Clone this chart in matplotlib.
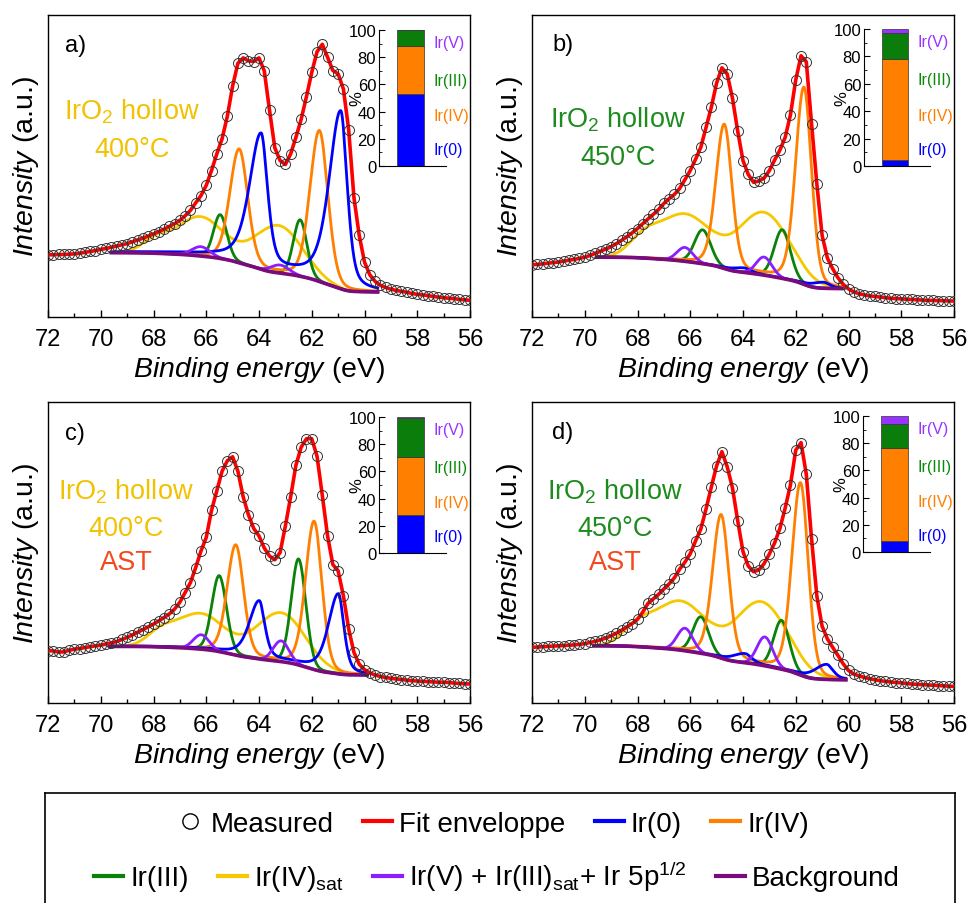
import numpy as np
import matplotlib
matplotlib.use("Agg")
import matplotlib.pyplot as plt
from matplotlib.lines import Line2D

plt.rcParams["font.family"] = ["Liberation Sans", "DejaVu Sans"]
plt.rcParams["mathtext.fontset"] = "custom"
plt.rcParams["mathtext.rm"] = "Liberation Sans"
plt.rcParams["mathtext.it"] = "Liberation Sans:italic"

W, H = 969, 904

# binding energy of the measured points (eV), 72 -> 56
energy = np.round(np.arange(72.0, 55.99, -0.2), 1)

# measured intensity (a.u.), one value per energy point
meas_a = [20.6, 20.6, 20.7, 20.7, 20.8, 20.9, 21.1, 21.4, 21.7, 22.0,
          22.4, 22.7, 23.1, 23.5, 23.9, 24.3, 24.9, 25.5, 26.1, 26.8,
          27.5, 28.3, 29.1, 30.0, 30.9, 32.0, 33.5, 35.3, 37.8, 40.2,
          43.6, 48.5, 54.0, 59.0, 66.5, 76.5, 84.0, 85.8, 84.8, 84.6,
          85.8, 81.5, 68.4, 56.0, 51.8, 50.5, 54.0, 59.5, 65.5, 73.0,
          81.0, 87.8, 90.3, 86.0, 81.6, 80.5, 75.5, 62.0, 39.5, 27.0,
          18.2, 14.0, 11.8, 10.5, 9.8, 9.2, 8.8, 8.5, 8.2, 7.8,
          7.5, 7.3, 7.1, 6.8, 6.6, 6.4, 6.2, 6.1, 5.8, 5.7, 5.5]
meas_b = [17.3, 17.4, 17.6, 17.8, 18.0, 18.2, 18.5, 18.8, 19.1, 19.4,
          19.8, 20.4, 21.1, 21.8, 22.5, 23.3, 24.3, 25.4, 26.6, 27.9,
          29.3, 30.9, 32.5, 34.0, 35.6, 37.6, 39.2, 40.6, 42.6, 45.5,
          48.5, 52.2, 56.2, 62.8, 69.5, 77.5, 82.5, 80.5, 72.5, 61.5,
          51.8, 47.2, 44.6, 45.0, 46.0, 48.5, 52.0, 55.3, 59.5, 67.0,
          78.5, 86.5, 84.5, 64.0, 44.0, 27.0, 19.5, 16.0, 13.0, 10.8,
          9.3, 8.3, 7.7, 7.3, 7.0, 6.8, 6.6, 6.4, 6.2, 6.1,
          6.0, 5.9, 5.8, 5.7, 5.6, 5.5, 5.5, 5.4, 5.4, 5.3, 5.3]
meas_c = [17.4, 17.3, 16.9, 17.0, 17.5, 17.9, 18.1, 18.4, 18.7, 19.0,
          19.2, 19.6, 20.0, 20.4, 21.1, 21.8, 22.6, 23.5, 24.4, 25.3,
          26.2, 27.3, 28.4, 29.6, 31.2, 33.5, 36.7, 40.0, 45.0, 50.5,
          55.0, 64.0, 70.5, 77.0, 80.5, 81.8, 77.0, 68.5, 62.5, 58.0,
          55.5, 51.5, 48.8, 47.6, 50.0, 58.8, 68.5, 79.0, 85.0, 87.8,
          87.8, 82.0, 69.0, 55.5, 46.0, 43.9, 35.6, 24.6, 16.8, 12.9,
          11.1, 10.0, 9.3, 8.8, 8.5, 8.2, 8.0, 7.8, 7.6, 7.4,
          7.3, 7.2, 7.1, 7.0, 6.9, 6.9, 6.8, 6.6, 6.5, 6.4, 6.3]
meas_d = [18.5, 18.6, 18.7, 18.8, 18.9, 19.0, 19.1, 19.2, 19.3, 19.5,
          19.7, 20.1, 20.5, 21.0, 21.6, 22.3, 23.2, 24.2, 25.3, 26.4,
          27.8, 30.2, 33.1, 34.6, 36.1, 37.9, 39.6, 41.6, 44.5, 46.8,
          49.6, 53.8, 57.8, 64.5, 71.8, 78.8, 83.5, 78.5, 71.5, 60.5,
          50.3, 45.5, 43.6, 44.2, 46.3, 49.5, 53.2, 58.0, 64.8, 72.5,
          84.0, 86.5, 76.0, 54.5, 35.5, 25.5, 21.3, 18.5, 15.8, 13.0,
          10.8, 9.6, 9.0, 8.5, 8.1, 7.7, 7.4, 7.2, 7.0, 6.8,
          6.7, 6.5, 6.3, 6.2, 6.1, 6.0, 5.9, 5.8, 5.7, 5.6, 5.5]

# fitted components: (centre eV, height above background, fwhm eV)
ir0_a = [(60.90, 58.8, 0.58), (63.92, 44.3, 0.58)]
ir4_a = [(61.71, 49.9, 0.76), (64.75, 37.5, 0.76)]
ir3_a = [(62.44, 18.7, 0.60), (65.47, 14.5, 0.60)]
sat_a = [(63.26, 15.7, 2.1), (66.23, 13.0, 2.1), (67.93, 4.0, 1.2)]
ir5_a = [(63.20, 2.7, 0.8), (66.20, 3.1, 0.8)]

ir0_b = [(60.95, 2.0, 0.6), (63.95, 1.5, 0.6)]
ir4_b = [(61.69, 65.2, 0.68), (64.71, 47.6, 0.68)]
ir3_b = [(62.51, 16.1, 0.72), (65.53, 11.2, 0.72)]
sat_b = [(63.20, 20.7, 2.3), (66.20, 15.5, 2.3), (67.77, 5.3, 1.3)]
ir5_b = [(63.20, 6.0, 0.7), (66.20, 4.6, 0.7)]

ir0_c = [(60.99, 26.6, 0.5), (63.99, 19.1, 0.5)]
ir4_c = [(61.91, 49.2, 0.70), (64.88, 36.5, 0.70)]
ir3_c = [(62.50, 35.2, 0.65), (65.51, 25.2, 0.65)]
sat_c = [(63.16, 16.2, 2.2), (66.23, 11.8, 2.2), (67.74, 3.8, 1.2)]
ir5_c = [(63.16, 6.9, 0.7), (66.19, 4.8, 0.7)]

ir0_d = [(60.83, 5.0, 0.6), (63.92, 3.0, 0.6)]
ir4_d = [(61.82, 63.8, 0.69), (64.83, 47.5, 0.69)]
ir3_d = [(62.54, 16.2, 0.70), (65.60, 12.1, 0.70)]
sat_d = [(63.29, 21.0, 2.3), (66.38, 16.2, 2.3), (68.02, 5.3, 1.3)]
ir5_d = [(63.17, 9.6, 0.7), (66.20, 7.5, 0.7)]

# Shirley background: (high BE end, level, low BE end, level)
bg_a = (69.6, 21.3, 59.5, 8.3)
bg_b = (69.55, 19.8, 60.25, 9.4)
bg_c = (69.65, 18.8, 59.9, 9.3)
bg_d = (69.65, 19.0, 60.1, 7.7)

# inset composition (%): Ir(0), Ir(IV), Ir(III), Ir(V)
share_a = [52.6, 35.4, 12.0, 0.0]
share_b = [4.1, 73.9, 18.8, 3.2]
share_c = [28.0, 42.5, 28.8, 0.7]
share_d = [8.3, 68.5, 17.6, 5.6]

species = ["Ir(0)", "Ir(IV)", "Ir(III)", "Ir(V)"]
panel_labels = ["a)", "b)", "c)", "d)"]
sample_text = [["IrO$_2$ hollow", "400°C"], ["IrO$_2$ hollow", "450°C"],
               ["IrO$_2$ hollow", "400°C", "AST"], ["IrO$_2$ hollow", "450°C", "AST"]]

YELLOW = "#F2C200"
GREEN = "#1E8B1E"
AST_RED = "#F24A1E"
sample_colors = [[YELLOW, YELLOW], [GREEN, GREEN],
                 [YELLOW, YELLOW, AST_RED], [GREEN, GREEN, AST_RED]]

# colour, lorentz fraction, high-BE asymmetry
comp_style = {
    "sat": ("#F5C800", 0.0, 1.0),
    "ir3": ("#0A820A", 0.1, 1.0),
    "ir4": ("#FF8000", 0.2, 1.1),
    "ir0": ("#0000FF", 0.5, 1.8),
    "ir5": ("#8B1EFF", 0.0, 1.0),
}
BAR_COLORS = ["#0000FF", "#FF8000", "#0A7D0A", "#9933FF"]
LABEL_COLORS = ["#0000FF", "#FF8000", "#0A8A0A", "#9933FF"]
BG_COLOR = "#7B0A7B"


def lineshape(x, c, h, fwhm, mix, asym):
    w = np.where(x > c, fwhm / 2 * asym, fwhm / 2)
    d2 = ((x - c) / w) ** 2
    return h * ((1 - mix) * np.exp(-np.log(2) * d2) + mix / (1 + d2))


def draw_spectrum(ax, meas, comps, bg):
    x_hi, y_hi, x_lo, y_lo = bg
    x = np.linspace(x_lo, x_hi, 900)
    peaks = {}
    for name, plist in comps.items():
        color, mix, asym = comp_style[name]
        peaks[name] = sum(lineshape(x, c, h, w, mix, asym) for c, h, w in plist)
    total = sum(peaks.values())
    cum = np.concatenate([[0], np.cumsum((total[1:] + total[:-1]) / 2 * np.diff(x))])
    base = y_lo + (y_hi - y_lo) * cum / cum[-1]
    for name in ["sat", "ir3", "ir4", "ir0", "ir5"]:
        ax.plot(x, base + peaks[name], color=comp_style[name][0], lw=2.0, zorder=2)
    ax.plot(x, base, color=BG_COLOR, lw=2.6, zorder=3)
    ax.plot(energy, meas, color="#FF0000", lw=2.6, zorder=4)
    ax.plot(energy, meas, "o", mfc="none", mec="#333333", mew=0.7, ms=7.2, zorder=5)

    ax.set_xlim(72, 56)
    ax.set_ylim(0, 100)
    ax.set_xticks(np.arange(72, 55, -2))
    ax.set_xticks(np.arange(71, 56, -2), minor=True)
    ax.set_yticks([])
    ax.tick_params(axis="x", which="both", direction="in", labelsize=17, pad=8)
    ax.tick_params(axis="x", which="major", length=5, width=1)
    ax.tick_params(axis="x", which="minor", length=3, width=1)
    for s in ax.spines.values():
        s.set_linewidth(1.0)
    ax.set_xlabel(r"$\it{Binding\ energy}$ (eV)", fontsize=20.5, labelpad=3)
    ax.set_ylabel(r"$\it{Intensity}$ (a.u.)", fontsize=20.5, labelpad=5)


def draw_inset(ins, share):
    bottom = 0
    for val, col in zip(share, BAR_COLORS):
        ins.bar(0.47, val, width=0.40, bottom=bottom, color=col,
                edgecolor="#333333", linewidth=0.5)
        bottom += val
    ins.set_xlim(0, 1)
    ins.set_ylim(0, 100)
    ins.set_xticks([])
    ins.set_yticks(np.arange(0, 101, 20))
    ins.set_yticks(np.arange(10, 100, 20), minor=True)
    ins.tick_params(axis="y", which="both", direction="in", labelsize=12, pad=2)
    ins.tick_params(axis="y", which="major", length=4)
    ins.tick_params(axis="y", which="minor", length=2)
    ins.spines["top"].set_visible(False)
    ins.spines["right"].set_visible(False)
    ins.patch.set_alpha(0)
    ins.text(-0.33, 50, "%", fontsize=12, rotation=90, ha="center", va="center",
             transform=ins.get_yaxis_transform())
    for lab, ypos, col in zip(species[::-1], [91, 63, 37, 12], LABEL_COLORS[::-1]):
        ins.text(0.81, ypos, lab, color=col, fontsize=11.5, ha="left", va="center",
                 transform=ins.get_yaxis_transform())


fig = plt.figure(figsize=(W / 100, H / 100), dpi=100)


def fx(px):
    return px / W


def fy(py):
    return 1 - py / H


main_boxes = [(48, 16, 470, 318), (532, 16, 954, 318),
              (48, 403, 470, 704), (532, 403, 954, 704)]
inset_boxes = [(379, 31, 446, 167), (864, 30, 930, 167),
               (379, 418, 446, 554), (863, 417, 930, 553)]
label_pos = [(65, 46), (552, 45), (65, 434), (552, 433)]
text_pos = [(132, [120, 157]), (618, [128, 165]),
            (126, [500, 536, 570]), (615, [500, 536, 570])]

all_meas = [meas_a, meas_b, meas_c, meas_d]
all_comps = [
    {"sat": sat_a, "ir3": ir3_a, "ir4": ir4_a, "ir0": ir0_a, "ir5": ir5_a},
    {"sat": sat_b, "ir3": ir3_b, "ir4": ir4_b, "ir0": ir0_b, "ir5": ir5_b},
    {"sat": sat_c, "ir3": ir3_c, "ir4": ir4_c, "ir0": ir0_c, "ir5": ir5_c},
    {"sat": sat_d, "ir3": ir3_d, "ir4": ir4_d, "ir0": ir0_d, "ir5": ir5_d},
]
all_bg = [bg_a, bg_b, bg_c, bg_d]
all_share = [share_a, share_b, share_c, share_d]

for i in range(4):
    l, t, r, b = main_boxes[i]
    ax = fig.add_axes([fx(l), fy(b), fx(r) - fx(l), fy(t) - fy(b)])
    draw_spectrum(ax, all_meas[i], all_comps[i], all_bg[i])

    l, t, r, b = inset_boxes[i]
    ins = fig.add_axes([fx(l), fy(b), fx(r) - fx(l), fy(t) - fy(b)])
    draw_inset(ins, all_share[i])

    px, py = label_pos[i]
    fig.text(fx(px), fy(py), panel_labels[i], fontsize=17, ha="left", va="center")
    cx, ys = text_pos[i]
    for txt, yy, col in zip(sample_text[i], ys, sample_colors[i]):
        fig.text(fx(cx), fy(yy), txt, fontsize=19.5, color=col, ha="center", va="baseline")

# legend box
leg_ax = fig.add_axes([fx(45), -0.05, fx(955) - fx(45), fy(794) + 0.05])
leg_ax.set_xticks([])
leg_ax.set_yticks([])
for s in leg_ax.spines.values():
    s.set_linewidth(1.2)

row1 = [Line2D([], [], marker="o", ls="none", mfc="none", mec="black", mew=1.0, ms=11),
        Line2D([], [], color="#FF0000", lw=3),
        Line2D([], [], color="#0000FF", lw=3),
        Line2D([], [], color="#FF8000", lw=3)]
row1_labels = ["Measured", "Fit enveloppe", "Ir(0)", "Ir(IV)"]
row2 = [Line2D([], [], color="#0A820A", lw=3),
        Line2D([], [], color="#F5C800", lw=3),
        Line2D([], [], color="#8B1EFF", lw=3),
        Line2D([], [], color=BG_COLOR, lw=3)]
row2_labels = ["Ir(III)", r"Ir(IV)$_{\mathrm{sat}}$",
               r"Ir(V) + Ir(III)$_{\mathrm{sat}}$+ Ir 5p$^{1/2}$", "Background"]

leg_kw = dict(loc="center", ncol=4, frameon=False, bbox_transform=fig.transFigure,
              fontsize=20, handlelength=1.05, handletextpad=0.25, columnspacing=1.05)
leg1 = leg_ax.legend(row1, row1_labels, bbox_to_anchor=(fx(492), fy(825)), **leg_kw)
leg_ax.add_artist(leg1)
leg_ax.legend(row2, row2_labels, bbox_to_anchor=(fx(497), fy(877)), **leg_kw)

fig.savefig("out.png", dpi=100)
